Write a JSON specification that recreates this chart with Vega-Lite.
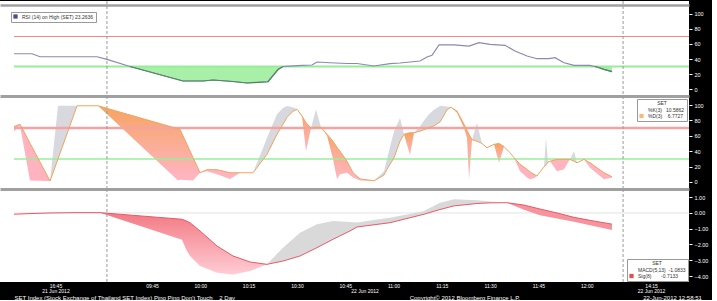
{
  "$schema": "https://vega.github.io/schema/vega-lite/v6.json",
  "background": "#000000",
  "padding": {"left": 0, "top": 0, "right": 4, "bottom": 0},
  "spacing": 0,
  "bounds": "flush",
  "config": {
    "view": {"stroke": null, "fill": "#ffffff"},
    "font": "Liberation Sans",
    "axis": {"grid": false, "labelOverlap": false, "labelLimit": 400, "labelSeparation": 0},
    "axisY": {"tickCount": 6},
    "legend": {"symbolType": "square", "symbolStrokeWidth": 0, "labelFontSize": 5, "titleFontSize": 5, "titleFontWeight": "normal", "symbolSize": 18, "padding": 2, "strokeColor": "#999999", "fillColor": "#ffffff", "rowPadding": 0.5, "labelColor": "#333333", "titleColor": "#333333", "titlePadding": 1, "labelLimit": 200}
  },
  "resolve": {"scale": {"x": "independent", "y": "independent", "color": "independent"}, "legend": {"color": "independent"}},
  "datasets": {
    "rsi": [
      {"t": -42.86, "v": 47}, {"t": -37.27, "v": 47}, {"t": -34.78, "v": 43}, {"t": -17.08, "v": 43},
      {"t": -13.98, "v": 39.5}, {"t": -6.83, "v": 30}, {"t": 9.63, "v": 10.7}, {"t": 15.84, "v": 10.7},
      {"t": 18.94, "v": 12}, {"t": 25.16, "v": 10}, {"t": 29.5, "v": 8}, {"t": 36.02, "v": 9.7},
      {"t": 39.13, "v": 26}, {"t": 40.68, "v": 30}, {"t": 42.86, "v": 30.5}, {"t": 46.58, "v": 31.6},
      {"t": 49.69, "v": 32}, {"t": 51.24, "v": 36}, {"t": 55.28, "v": 35}, {"t": 60.56, "v": 34},
      {"t": 63.66, "v": 34}, {"t": 68.94, "v": 30.7}, {"t": 73.91, "v": 33.8}, {"t": 77.02, "v": 34.7},
      {"t": 80.12, "v": 36}, {"t": 83.23, "v": 37.3}, {"t": 85.4, "v": 42.7}, {"t": 86.96, "v": 45},
      {"t": 89.13, "v": 58.7}, {"t": 93.79, "v": 58.7}, {"t": 98.45, "v": 57.3}, {"t": 101.55, "v": 61.7},
      {"t": 104.97, "v": 59.6}, {"t": 109.63, "v": 58.2}, {"t": 112.73, "v": 50.7}, {"t": 116.46, "v": 44},
      {"t": 119.57, "v": 40.4}, {"t": 123.29, "v": 40.4}, {"t": 125.16, "v": 41.8}, {"t": 127.95, "v": 35},
      {"t": 131.06, "v": 31.6}, {"t": 136.02, "v": 31.6}, {"t": 138.2, "v": 29.3}, {"t": 140.37, "v": 26.2},
      {"t": 142.86, "v": 23.26}
    ],
    "rsifill": [
      {"t": -6.83, "v": 30, "seg": 1}, {"t": 9.63, "v": 10.7, "seg": 1}, {"t": 15.84, "v": 10.7, "seg": 1},
      {"t": 18.94, "v": 12, "seg": 1}, {"t": 25.16, "v": 10, "seg": 1}, {"t": 29.5, "v": 8, "seg": 1},
      {"t": 36.02, "v": 9.7, "seg": 1}, {"t": 39.13, "v": 26, "seg": 1}, {"t": 40.68, "v": 30, "seg": 1},
      {"t": 137.54, "v": 30, "seg": 2}, {"t": 138.2, "v": 29.3, "seg": 2}, {"t": 140.37, "v": 26.2, "seg": 2},
      {"t": 142.86, "v": 23.26, "seg": 2}
    ],
    "stoch": [
      {"t": -42.86, "d": 72, "k": 66, "s": 1, "c": "p"}, {"t": -40.99, "d": 75, "k": 73, "s": 1, "c": "p"},
      {"t": -37.89, "d": 50.4, "k": 2, "s": 1, "c": "p"}, {"t": -31.68, "d": 1.3, "k": 1.3, "s": 1, "c": "p"},
      {"t": -31.68, "d": 1.3, "k": 1.3, "s": 2, "c": "g"}, {"t": -29.19, "d": 30, "k": 99, "s": 2, "c": "g"},
      {"t": -23.29, "d": 99, "k": 99, "s": 2, "c": "g"},
      {"t": -23.29, "d": 99, "k": 99, "s": 3, "c": "w"}, {"t": -16.77, "d": 99, "k": 99, "s": 3, "c": "w"},
      {"t": 8.07, "d": 69.1, "k": 2, "s": 3, "c": "w"}, {"t": 8.7, "d": 68.4, "k": 3, "s": 3, "c": "w"},
      {"t": 12.73, "d": 31.7, "k": 2, "s": 3, "c": "w"}, {"t": 14.91, "d": 12, "k": 12, "s": 3, "c": "w"},
      {"t": 14.91, "d": 12, "k": 12, "s": 4, "c": "p"}, {"t": 17.08, "d": 16, "k": 14, "s": 4, "c": "p"},
      {"t": 20.19, "d": 16, "k": 10, "s": 4, "c": "p"}, {"t": 24.22, "d": 12, "k": 4, "s": 4, "c": "p"},
      {"t": 27.33, "d": 12, "k": 12, "s": 4, "c": "p"}, {"t": 29.5, "d": 12, "k": 12, "s": 4, "c": "p"},
      {"t": 31.37, "d": 12, "k": 12, "s": 4, "c": "p"},
      {"t": 31.37, "d": 12, "k": 12, "s": 5, "c": "g"}, {"t": 34.47, "d": 29, "k": 44, "s": 5, "c": "g"},
      {"t": 35.71, "d": 36, "k": 57.6, "s": 5, "c": "g"}, {"t": 38.82, "d": 62, "k": 88, "s": 5, "c": "g"},
      {"t": 40.68, "d": 75, "k": 96, "s": 5, "c": "g"}, {"t": 41.93, "d": 84, "k": 98.7, "s": 5, "c": "g"},
      {"t": 43.79, "d": 92, "k": 97, "s": 5, "c": "g"}, {"t": 45.03, "d": 94.4, "k": 94.4, "s": 5, "c": "g"},
      {"t": 45.03, "d": 94.4, "k": 94.4, "s": 6, "c": "w"}, {"t": 46.58, "d": 85.7, "k": 85, "s": 6, "c": "w"},
      {"t": 47.83, "d": 77, "k": 40, "s": 6, "c": "w"}, {"t": 49.38, "d": 70, "k": 70, "s": 6, "c": "w"},
      {"t": 49.38, "d": 70, "k": 70, "s": 7, "c": "g"}, {"t": 50.93, "d": 71, "k": 94.4, "s": 7, "c": "g"},
      {"t": 52.48, "d": 71, "k": 71, "s": 7, "c": "g"},
      {"t": 52.48, "d": 71, "k": 71, "s": 8, "c": "w"}, {"t": 54.35, "d": 62, "k": 60, "s": 8, "c": "w"},
      {"t": 56.21, "d": 53, "k": 30, "s": 8, "c": "w"}, {"t": 57.45, "d": 45, "k": 4, "s": 8, "c": "w"},
      {"t": 58.39, "d": 40, "k": 10, "s": 8, "c": "w"}, {"t": 60.56, "d": 27, "k": 12, "s": 8, "c": "w"},
      {"t": 62.42, "d": 12, "k": 6, "s": 8, "c": "w"}, {"t": 64.6, "d": 4, "k": 2, "s": 8, "c": "w"},
      {"t": 66.46, "d": 3, "k": 1.5, "s": 8, "c": "w"}, {"t": 68.94, "d": 1.5, "k": 1.5, "s": 8, "c": "w"},
      {"t": 68.94, "d": 1.5, "k": 1.5, "s": 9, "c": "g"}, {"t": 72.05, "d": 9, "k": 14, "s": 9, "c": "g"},
      {"t": 72.98, "d": 16.5, "k": 30, "s": 9, "c": "g"}, {"t": 75.16, "d": 31.6, "k": 66, "s": 9, "c": "g"},
      {"t": 77.02, "d": 53, "k": 83, "s": 9, "c": "g"}, {"t": 78.26, "d": 62, "k": 62, "s": 9, "c": "g"},
      {"t": 78.26, "d": 62, "k": 62, "s": 10, "c": "w"}, {"t": 80.12, "d": 64, "k": 35, "s": 10, "c": "w"},
      {"t": 81.37, "d": 64, "k": 64, "s": 10, "c": "w"},
      {"t": 81.37, "d": 64, "k": 64, "s": 11, "c": "g"}, {"t": 83.23, "d": 66, "k": 72, "s": 11, "c": "g"},
      {"t": 84.47, "d": 68, "k": 80, "s": 11, "c": "g"}, {"t": 86.02, "d": 70.5, "k": 88, "s": 11, "c": "g"},
      {"t": 87.58, "d": 73, "k": 94, "s": 11, "c": "g"}, {"t": 89.44, "d": 78, "k": 98.7, "s": 11, "c": "g"},
      {"t": 90.06, "d": 82, "k": 98.7, "s": 11, "c": "g"}, {"t": 91.61, "d": 94, "k": 98, "s": 11, "c": "g"},
      {"t": 92.86, "d": 97, "k": 97, "s": 11, "c": "g"},
      {"t": 92.86, "d": 97, "k": 97, "s": 12, "c": "w"}, {"t": 94.72, "d": 92, "k": 90, "s": 12, "c": "w"},
      {"t": 96.89, "d": 75, "k": 70, "s": 12, "c": "w"}, {"t": 97.83, "d": 67, "k": 57, "s": 12, "c": "w"},
      {"t": 98.45, "d": 62, "k": 3.5, "s": 12, "c": "w"}, {"t": 99.38, "d": 55, "k": 55, "s": 12, "c": "w"},
      {"t": 99.38, "d": 55, "k": 55, "s": 13, "c": "g"}, {"t": 100.93, "d": 53, "k": 77, "s": 13, "c": "g"},
      {"t": 102.48, "d": 50, "k": 50, "s": 13, "c": "g"},
      {"t": 102.48, "d": 50, "k": 50, "s": 14, "c": "w"}, {"t": 104.04, "d": 44.6, "k": 44.6, "s": 14, "c": "w"},
      {"t": 106.21, "d": 48.9, "k": 48.9, "s": 14, "c": "w"}, {"t": 107.76, "d": 50, "k": 25, "s": 14, "c": "w"},
      {"t": 109.32, "d": 46, "k": 46, "s": 14, "c": "w"},
      {"t": 109.32, "d": 46, "k": 46, "s": 15, "c": "p"}, {"t": 111.18, "d": 38, "k": 38, "s": 15, "c": "p"},
      {"t": 112.42, "d": 31.6, "k": 31.6, "s": 15, "c": "p"}, {"t": 114.29, "d": 23, "k": 14, "s": 15, "c": "p"},
      {"t": 116.46, "d": 16.5, "k": 6, "s": 15, "c": "p"}, {"t": 117.39, "d": 13, "k": 3.5, "s": 15, "c": "p"},
      {"t": 118.63, "d": 10, "k": 5, "s": 15, "c": "p"}, {"t": 119.57, "d": 7.8, "k": 7.8, "s": 15, "c": "p"},
      {"t": 119.57, "d": 7.8, "k": 7.8, "s": 16, "c": "g"}, {"t": 121.74, "d": 20, "k": 20, "s": 16, "c": "g"},
      {"t": 122.36, "d": 22, "k": 57.6, "s": 16, "c": "g"}, {"t": 122.98, "d": 26, "k": 26, "s": 16, "c": "g"},
      {"t": 123.6, "d": 27, "k": 27, "s": 16, "c": "g"},
      {"t": 123.6, "d": 27, "k": 27, "s": 17, "c": "p"}, {"t": 125.78, "d": 29.4, "k": 14, "s": 17, "c": "p"},
      {"t": 127.95, "d": 29.4, "k": 16.5, "s": 17, "c": "p"}, {"t": 129.81, "d": 29.4, "k": 29.4, "s": 17, "c": "p"},
      {"t": 129.81, "d": 29.4, "k": 29.4, "s": 18, "c": "g"}, {"t": 131.06, "d": 27, "k": 40, "s": 18, "c": "g"},
      {"t": 131.99, "d": 25, "k": 25, "s": 18, "c": "g"},
      {"t": 131.99, "d": 25, "k": 25, "s": 19, "c": "p"}, {"t": 134.16, "d": 29.4, "k": 29.4, "s": 19, "c": "p"},
      {"t": 136.02, "d": 25, "k": 18.6, "s": 19, "c": "p"}, {"t": 140.37, "d": 12, "k": 3.5, "s": 19, "c": "p"},
      {"t": 142.86, "d": 6.8, "k": 6, "s": 19, "c": "p"}
    ],
    "macd": [
      {"t": -42.86, "m": -0.08, "s": -0.08, "seg": 0, "c": "n"}, {"t": -37.89, "m": -0.04, "s": -0.04, "seg": 0, "c": "n"},
      {"t": -31.68, "m": 0, "s": 0, "seg": 0, "c": "n"}, {"t": -23.91, "m": 0.02, "s": 0.02, "seg": 0, "c": "n"},
      {"t": -16.15, "m": 0.02, "s": 0.02, "seg": 0, "c": "n"},
      {"t": -16.15, "m": 0.02, "s": 0.02, "seg": 1, "c": "w"}, {"t": 9.32, "m": -1.7, "s": -0.4, "seg": 1, "c": "w"},
      {"t": 10.56, "m": -2.3, "s": -0.5, "seg": 1, "c": "w"}, {"t": 11.8, "m": -2.73, "s": -0.62, "seg": 1, "c": "w"},
      {"t": 14.91, "m": -3.37, "s": -1.14, "seg": 1, "c": "w"}, {"t": 20.19, "m": -3.79, "s": -2.1, "seg": 1, "c": "w"},
      {"t": 25.16, "m": -3.9, "s": -2.73, "seg": 1, "c": "w"}, {"t": 30.43, "m": -3.68, "s": -3.11, "seg": 1, "c": "w"},
      {"t": 35.71, "m": -3.26, "s": -3.26, "seg": 1, "c": "w"},
      {"t": 35.71, "m": -3.26, "s": -3.26, "seg": 2, "c": "g"}, {"t": 40.68, "m": -2.2, "s": -3.05, "seg": 2, "c": "g"},
      {"t": 45.96, "m": -1.25, "s": -2.73, "seg": 2, "c": "g"}, {"t": 51.24, "m": -0.72, "s": -2.2, "seg": 2, "c": "g"},
      {"t": 56.21, "m": -0.51, "s": -1.67, "seg": 2, "c": "g"}, {"t": 61.49, "m": -0.57, "s": -1.14, "seg": 2, "c": "g"},
      {"t": 63.66, "m": -0.6, "s": -0.89, "seg": 2, "c": "g"}, {"t": 68.94, "m": -0.45, "s": -0.75, "seg": 2, "c": "g"},
      {"t": 73.91, "m": -0.3, "s": -0.62, "seg": 2, "c": "g"}, {"t": 79.19, "m": -0.1, "s": -0.35, "seg": 2, "c": "g"},
      {"t": 84.47, "m": 0.13, "s": -0.08, "seg": 2, "c": "g"}, {"t": 89.44, "m": 0.65, "s": 0.22, "seg": 2, "c": "g"},
      {"t": 93.79, "m": 0.87, "s": 0.45, "seg": 2, "c": "g"}, {"t": 100.93, "m": 0.81, "s": 0.6, "seg": 2, "c": "g"},
      {"t": 104.97, "m": 0.72, "s": 0.64, "seg": 2, "c": "g"}, {"t": 110.25, "m": 0.65, "s": 0.65, "seg": 2, "c": "g"},
      {"t": 110.25, "m": 0.65, "s": 0.65, "seg": 3, "c": "p"}, {"t": 115.53, "m": 0.2, "s": 0.5, "seg": 3, "c": "p"},
      {"t": 120.5, "m": -0.15, "s": 0.25, "seg": 3, "c": "p"}, {"t": 125.78, "m": -0.35, "s": 0, "seg": 3, "c": "p"},
      {"t": 131.06, "m": -0.55, "s": -0.28, "seg": 3, "c": "p"}, {"t": 136.02, "m": -0.78, "s": -0.47, "seg": 3, "c": "p"},
      {"t": 142.86, "m": -1.08, "s": -0.71, "seg": 3, "c": "p"}
    ],
    "breaks": [{"t": -14}, {"t": 146.3}],
    "lv1": [{"level": 70, "t0": -42.86, "t1": 166.77}],
    "lv2": [{"level": 30, "t0": -42.86, "t1": 166.77}],
    "lv0": [{"level": 0, "t0": -42.86, "t1": 166.77}],
    "leg1": [{"name": "RSI (14) on High (SET) 23.2636"}],
    "leg2": [{"name": "%K(3)\u00a0\u00a0\u00a010.5862"}, {"name": "%D(3)\u00a0\u00a0\u00a0\u00a06.7727"}],
    "leg3": [{"name": "MACD(5,13)\u00a0\u00a0-1.0833"}, {"name": "Sig(8)\u00a0\u00a0\u00a0\u00a0\u00a0\u00a0\u00a0-0.7133"}]
  },
  "vconcat": [
    {
      "width": 689, "height": 95,
      "view": {"fill": "#ffffff", "stroke": null},
      "layer": [
        {
          "data": {"name": "rsifill"},
          "mark": {"type": "area", "color": "#a8f0a8"},
          "encoding": {
            "x": {"field": "t", "type": "quantitative", "scale": {"domain": [-47.21, 166.77], "nice": false, "zero": false},
                  "axis": {"orient": "top", "offset": -4, "labels": false, "ticks": false, "grid": false, "domainColor": "#a0a0a0", "domainWidth": 2.5, "title": null}},
            "y": {"field": "v", "type": "quantitative", "title": null, "scale": {"domain": [-9.3, 117.3], "nice": false, "zero": false},
                  "axis": {"orient": "right", "values": [0, 20, 40, 60, 80, 100], "domain": false, "tickSize": 3, "tickColor": "#ffffff", "tickWidth": 1, "labelColor": "#ffffff", "labelFontSize": 5.5, "labelPadding": 2, "labelOverlap": false, "labelSeparation": 0, "grid": false, "title": null}},
            "y2": {"datum": 30},
            "detail": {"field": "seg", "type": "nominal"}
          }
        },
        {
          "data": {"name": "lv1"},
          "mark": {"type": "rule", "color": "#f08888", "strokeWidth": 1},
          "encoding": {
            "x": {"field": "t0", "type": "quantitative", "scale": {"domain": [-47.21, 166.77], "nice": false, "zero": false}},
            "x2": {"field": "t1"},
            "y": {"field": "level", "type": "quantitative", "title": null, "scale": {"domain": [-9.3, 117.3], "nice": false, "zero": false},
                  "axis": {"orient": "right", "values": [0, 20, 40, 60, 80, 100], "domain": false, "tickSize": 3, "tickColor": "#ffffff", "tickWidth": 1, "labelColor": "#ffffff", "labelFontSize": 5.5, "labelPadding": 2, "labelOverlap": false, "labelSeparation": 0, "grid": false, "title": null}}
          }
        },
        {
          "data": {"name": "lv2"},
          "mark": {"type": "rule", "color": "#98ee98", "strokeWidth": 2},
          "encoding": {
            "x": {"field": "t0", "type": "quantitative", "scale": {"domain": [-47.21, 166.77], "nice": false, "zero": false}},
            "x2": {"field": "t1"},
            "y": {"field": "level", "type": "quantitative", "title": null, "scale": {"domain": [-9.3, 117.3], "nice": false, "zero": false},
                  "axis": {"orient": "right", "values": [0, 20, 40, 60, 80, 100], "domain": false, "tickSize": 3, "tickColor": "#ffffff", "tickWidth": 1, "labelColor": "#ffffff", "labelFontSize": 5.5, "labelPadding": 2, "labelOverlap": false, "labelSeparation": 0, "grid": false, "title": null}}
          }
        },
        {
          "data": {"name": "breaks"},
          "mark": {"type": "rule", "color": "#9a9a9a", "strokeWidth": 1, "strokeDash": [3, 2]},
          "encoding": {"x": {"field": "t", "type": "quantitative", "scale": {"domain": [-47.21, 166.77], "nice": false, "zero": false}}}
        },
        {
          "data": {"name": "rsi"},
          "mark": {"type": "line", "color": "#8a8ab0", "strokeWidth": 1.2},
          "encoding": {
            "x": {"field": "t", "type": "quantitative", "scale": {"domain": [-47.21, 166.77], "nice": false, "zero": false}},
            "y": {"field": "v", "type": "quantitative", "title": null, "scale": {"domain": [-9.3, 117.3], "nice": false, "zero": false},
                  "axis": {"orient": "right", "values": [0, 20, 40, 60, 80, 100], "domain": false, "tickSize": 3, "tickColor": "#ffffff", "tickWidth": 1, "labelColor": "#ffffff", "labelFontSize": 5.5, "labelPadding": 2, "labelOverlap": false, "labelSeparation": 0, "grid": false, "title": null}}
          }
        },
        {
          "data": {"name": "rsifill"},
          "mark": {"type": "line", "color": "#4f8a5f", "strokeWidth": 1.2},
          "encoding": {
            "x": {"field": "t", "type": "quantitative", "scale": {"domain": [-47.21, 166.77], "nice": false, "zero": false}},
            "y": {"field": "v", "type": "quantitative", "title": null, "scale": {"domain": [-9.3, 117.3], "nice": false, "zero": false},
                  "axis": {"orient": "right", "values": [0, 20, 40, 60, 80, 100], "domain": false, "tickSize": 3, "tickColor": "#ffffff", "tickWidth": 1, "labelColor": "#ffffff", "labelFontSize": 5.5, "labelPadding": 2, "labelOverlap": false, "labelSeparation": 0, "grid": false, "title": null}},
            "detail": {"field": "seg", "type": "nominal"}
          }
        },
        {
          "data": {"name": "leg1"},
          "transform": [{"filter": "false"}],
          "mark": {"type": "point", "filled": true},
          "encoding": {
            "color": {"field": "name", "type": "nominal", "scale": {"domain": ["RSI (14) on High (SET) 23.2636"], "range": ["#000066"]},
                      "legend": {"orient": "top-left", "title": null, "offset": 11}}
          }
        }
      ]
    },
    {
      "width": 689, "height": 93,
      "view": {"fill": "#ffffff", "stroke": null},
      "layer": [
        {
          "data": {"name": "stoch"},
          "transform": [{"filter": "datum.c == 'g'"}],
          "mark": {"type": "area", "color": "#d8d9de"},
          "encoding": {
            "x": {"field": "t", "type": "quantitative", "scale": {"domain": [-47.21, 166.77], "nice": false, "zero": false},
                  "axis": {"orient": "top", "labels": false, "ticks": false, "grid": false, "domainColor": "#a0a0a0", "domainWidth": 3, "title": null}},
            "y": {"field": "k", "type": "quantitative", "title": null, "scale": {"domain": [-9.1, 111.7], "nice": false, "zero": false},
                  "axis": {"orient": "right", "values": [0, 20, 40, 60, 80, 100], "domain": false, "tickSize": 3, "tickColor": "#ffffff", "tickWidth": 1, "labelColor": "#ffffff", "labelFontSize": 5.5, "labelPadding": 2, "labelOverlap": false, "labelSeparation": 0, "grid": false, "title": null}},
            "y2": {"field": "d"},
            "detail": {"field": "s", "type": "nominal"}
          }
        },
        {
          "data": {"name": "stoch"},
          "transform": [{"filter": "datum.c == 'w'"}],
          "mark": {"type": "area", "color": {"x1": 0, "y1": 0, "x2": 0, "y2": 1, "gradient": "linear", "stops": [{"offset": 0, "color": "#f6a462"}, {"offset": 1, "color": "#ffb6c4"}]}},
          "encoding": {
            "x": {"field": "t", "type": "quantitative", "scale": {"domain": [-47.21, 166.77], "nice": false, "zero": false}},
            "y": {"field": "k", "type": "quantitative", "title": null, "scale": {"domain": [-9.1, 111.7], "nice": false, "zero": false},
                  "axis": {"orient": "right", "values": [0, 20, 40, 60, 80, 100], "domain": false, "tickSize": 3, "tickColor": "#ffffff", "tickWidth": 1, "labelColor": "#ffffff", "labelFontSize": 5.5, "labelPadding": 2, "labelOverlap": false, "labelSeparation": 0, "grid": false, "title": null}},
            "y2": {"field": "d"},
            "detail": {"field": "s", "type": "nominal"}
          }
        },
        {
          "data": {"name": "stoch"},
          "transform": [{"filter": "datum.c == 'p'"}],
          "mark": {"type": "area", "color": "#ffb3be"},
          "encoding": {
            "x": {"field": "t", "type": "quantitative", "scale": {"domain": [-47.21, 166.77], "nice": false, "zero": false}},
            "y": {"field": "k", "type": "quantitative", "title": null, "scale": {"domain": [-9.1, 111.7], "nice": false, "zero": false},
                  "axis": {"orient": "right", "values": [0, 20, 40, 60, 80, 100], "domain": false, "tickSize": 3, "tickColor": "#ffffff", "tickWidth": 1, "labelColor": "#ffffff", "labelFontSize": 5.5, "labelPadding": 2, "labelOverlap": false, "labelSeparation": 0, "grid": false, "title": null}},
            "y2": {"field": "d"},
            "detail": {"field": "s", "type": "nominal"}
          }
        },
        {
          "data": {"name": "lv1"},
          "mark": {"type": "rule", "color": "#f4a2a2", "strokeWidth": 2.5},
          "encoding": {
            "x": {"field": "t0", "type": "quantitative", "scale": {"domain": [-47.21, 166.77], "nice": false, "zero": false}},
            "x2": {"field": "t1"},
            "y": {"field": "level", "type": "quantitative", "title": null, "scale": {"domain": [-9.1, 111.7], "nice": false, "zero": false},
                  "axis": {"orient": "right", "values": [0, 20, 40, 60, 80, 100], "domain": false, "tickSize": 3, "tickColor": "#ffffff", "tickWidth": 1, "labelColor": "#ffffff", "labelFontSize": 5.5, "labelPadding": 2, "labelOverlap": false, "labelSeparation": 0, "grid": false, "title": null}}
          }
        },
        {
          "data": {"name": "lv2"},
          "mark": {"type": "rule", "color": "#98ee98", "strokeWidth": 1.5},
          "encoding": {
            "x": {"field": "t0", "type": "quantitative", "scale": {"domain": [-47.21, 166.77], "nice": false, "zero": false}},
            "x2": {"field": "t1"},
            "y": {"field": "level", "type": "quantitative", "title": null, "scale": {"domain": [-9.1, 111.7], "nice": false, "zero": false},
                  "axis": {"orient": "right", "values": [0, 20, 40, 60, 80, 100], "domain": false, "tickSize": 3, "tickColor": "#ffffff", "tickWidth": 1, "labelColor": "#ffffff", "labelFontSize": 5.5, "labelPadding": 2, "labelOverlap": false, "labelSeparation": 0, "grid": false, "title": null}}
          }
        },
        {
          "data": {"name": "breaks"},
          "mark": {"type": "rule", "color": "#9a9a9a", "strokeWidth": 1, "strokeDash": [3, 2]},
          "encoding": {"x": {"field": "t", "type": "quantitative", "scale": {"domain": [-47.21, 166.77], "nice": false, "zero": false}}}
        },
        {
          "data": {"name": "stoch"},
          "mark": {"type": "line", "color": "#f0a45e", "strokeWidth": 1},
          "encoding": {
            "x": {"field": "t", "type": "quantitative", "scale": {"domain": [-47.21, 166.77], "nice": false, "zero": false}},
            "y": {"field": "d", "type": "quantitative", "title": null, "scale": {"domain": [-9.1, 111.7], "nice": false, "zero": false},
                  "axis": {"orient": "right", "values": [0, 20, 40, 60, 80, 100], "domain": false, "tickSize": 3, "tickColor": "#ffffff", "tickWidth": 1, "labelColor": "#ffffff", "labelFontSize": 5.5, "labelPadding": 2, "labelOverlap": false, "labelSeparation": 0, "grid": false, "title": null}}
          }
        },
        {
          "data": {"name": "leg2"},
          "transform": [{"filter": "false"}],
          "mark": {"type": "point", "filled": true},
          "encoding": {
            "color": {"field": "name", "type": "nominal", "scale": {"domain": ["%K(3)\u00a0\u00a0\u00a010.5862", "%D(3)\u00a0\u00a0\u00a0\u00a06.7727"], "range": ["#ffffff", "#f39b4a"]},
                      "legend": {"orient": "top-right", "title": "SET", "titleAnchor": "middle", "offset": 2.5}}
          }
        }
      ]
    },
    {
      "width": 689, "height": 93,
      "view": {"fill": "#ffffff", "stroke": null},
      "resolve": {"axis": {"x": "independent"}},
      "layer": [
        {
          "data": {"name": "lv0"},
          "mark": {"type": "rule", "color": "#e2e2e2", "strokeWidth": 1},
          "encoding": {
            "x": {"field": "t0", "type": "quantitative", "scale": {"domain": [-47.21, 166.77], "nice": false, "zero": false},
                  "axis": {"orient": "bottom", "values": [-30, 0, 15, 30, 45, 60, 66, 75, 90, 105, 120, 135, 155],
                           "labelExpr": "datum.value == -30 ? ['16:45', '21 Jun 2012'] : datum.value == 0 ? '09:45' : datum.value == 15 ? '10:00' : datum.value == 30 ? '10:15' : datum.value == 45 ? '10:30' : datum.value == 60 ? '10:45' : datum.value == 66 ? ['', '22 Jun 2012'] : datum.value == 75 ? '11:00' : datum.value == 90 ? '11:15' : datum.value == 105 ? '11:30' : datum.value == 120 ? '11:45' : datum.value == 135 ? '12:00' : ['14:15', '22 Jun 2012']",
                           "domain": false, "ticks": false, "labelColor": "#ffffff", "labelFontSize": 5,
                           "labelPadding": 1, "labelLineHeight": 5.5, "labelBaseline": "top", "labelOverlap": false, "labelBound": false, "labelFlush": false, "grid": false, "title": null}},
            "x2": {"field": "t1"},
            "y": {"field": "level", "type": "quantitative", "title": null, "scale": {"domain": [-4.38, 1.52], "nice": false, "zero": false},
                  "axis": {"orient": "right", "values": [-4, -3, -2, -1, 0, 1], "format": ".2f", "domain": false, "tickSize": 3, "tickColor": "#ffffff", "tickWidth": 1, "labelColor": "#ffffff", "labelFontSize": 5.5, "labelPadding": 2, "labelOverlap": false, "labelSeparation": 0, "grid": false, "title": null}}
          }
        },
        {
          "data": {"name": "macd"},
          "transform": [{"filter": "datum.c == 'g'"}],
          "mark": {"type": "area", "color": "#d9d9d9"},
          "encoding": {
            "x": {"field": "t", "type": "quantitative", "scale": {"domain": [-47.21, 166.77], "nice": false, "zero": false},
                  "axis": {"orient": "top", "labels": false, "ticks": false, "grid": false, "domainColor": "#a0a0a0", "domainWidth": 3, "title": null}},
            "y": {"field": "m", "type": "quantitative", "title": null, "scale": {"domain": [-4.38, 1.52], "nice": false, "zero": false},
                  "axis": {"orient": "right", "values": [-4, -3, -2, -1, 0, 1], "format": ".2f", "domain": false, "tickSize": 3, "tickColor": "#ffffff", "tickWidth": 1, "labelColor": "#ffffff", "labelFontSize": 5.5, "labelPadding": 2, "labelOverlap": false, "labelSeparation": 0, "grid": false, "title": null}},
            "y2": {"field": "s"},
            "detail": {"field": "seg", "type": "nominal"}
          }
        },
        {
          "data": {"name": "macd"},
          "transform": [{"filter": "datum.c == 'w'"}],
          "mark": {"type": "area", "color": {"x1": 0, "y1": 0, "x2": 0, "y2": 1, "gradient": "linear", "stops": [{"offset": 0, "color": "#f27a84"}, {"offset": 1, "color": "#ffccd4"}]}},
          "encoding": {
            "x": {"field": "t", "type": "quantitative", "scale": {"domain": [-47.21, 166.77], "nice": false, "zero": false}, "axis": null},
            "y": {"field": "m", "type": "quantitative", "title": null, "scale": {"domain": [-4.38, 1.52], "nice": false, "zero": false},
                  "axis": {"orient": "right", "values": [-4, -3, -2, -1, 0, 1], "format": ".2f", "domain": false, "tickSize": 3, "tickColor": "#ffffff", "tickWidth": 1, "labelColor": "#ffffff", "labelFontSize": 5.5, "labelPadding": 2, "labelOverlap": false, "labelSeparation": 0, "grid": false, "title": null}},
            "y2": {"field": "s"},
            "detail": {"field": "seg", "type": "nominal"}
          }
        },
        {
          "data": {"name": "macd"},
          "transform": [{"filter": "datum.c == 'p'"}],
          "mark": {"type": "area", "color": "#f6939c"},
          "encoding": {
            "x": {"field": "t", "type": "quantitative", "scale": {"domain": [-47.21, 166.77], "nice": false, "zero": false}, "axis": null},
            "y": {"field": "m", "type": "quantitative", "title": null, "scale": {"domain": [-4.38, 1.52], "nice": false, "zero": false},
                  "axis": {"orient": "right", "values": [-4, -3, -2, -1, 0, 1], "format": ".2f", "domain": false, "tickSize": 3, "tickColor": "#ffffff", "tickWidth": 1, "labelColor": "#ffffff", "labelFontSize": 5.5, "labelPadding": 2, "labelOverlap": false, "labelSeparation": 0, "grid": false, "title": null}},
            "y2": {"field": "s"},
            "detail": {"field": "seg", "type": "nominal"}
          }
        },
        {
          "data": {"name": "breaks"},
          "mark": {"type": "rule", "color": "#9a9a9a", "strokeWidth": 1, "strokeDash": [3, 2]},
          "encoding": {"x": {"field": "t", "type": "quantitative", "scale": {"domain": [-47.21, 166.77], "nice": false, "zero": false}, "axis": null}}
        },
        {
          "data": {"name": "macd"},
          "mark": {"type": "line", "color": "#e65a6a", "strokeWidth": 1},
          "encoding": {
            "x": {"field": "t", "type": "quantitative", "scale": {"domain": [-47.21, 166.77], "nice": false, "zero": false},
                  "axis": {"orient": "bottom", "offset": 12, "values": [-42.86, 97, 161.5],
                           "labelExpr": "datum.value < -40 ? \"SET Index (Stock Exchange of Thailand SET Index) Ping Ping Don't Touch\u00a0\u00a0\u00a0\u00a02 Day\" : datum.value == 97 ? 'Copyright\u00a9 2012 Bloomberg Finance L.P.' : '22-Jun-2012 12:58:51'",
                           "domain": false, "ticks": false, "labelColor": "#ffffff",
                           "labelAlign": {"condition": {"test": "datum.value < -40", "value": "left"}, "value": "center"},
                           "labelFontSize": 6, "labelPadding": 0, "labelBaseline": "top", "labelOverlap": false, "labelBound": false, "labelFlush": false, "grid": false, "title": null}},
            "y": {"field": "s", "type": "quantitative", "title": null, "scale": {"domain": [-4.38, 1.52], "nice": false, "zero": false},
                  "axis": {"orient": "right", "values": [-4, -3, -2, -1, 0, 1], "format": ".2f", "domain": false, "tickSize": 3, "tickColor": "#ffffff", "tickWidth": 1, "labelColor": "#ffffff", "labelFontSize": 5.5, "labelPadding": 2, "labelOverlap": false, "labelSeparation": 0, "grid": false, "title": null}}
          }
        },
        {
          "data": {"name": "leg3"},
          "transform": [{"filter": "false"}],
          "mark": {"type": "point", "filled": true},
          "encoding": {
            "color": {"field": "name", "type": "nominal", "scale": {"domain": ["MACD(5,13)\u00a0\u00a0-1.0833", "Sig(8)\u00a0\u00a0\u00a0\u00a0\u00a0\u00a0\u00a0-0.7133"], "range": ["#ffffff", "#e00000"]},
                      "legend": {"orient": "bottom-right", "title": "SET", "titleAnchor": "middle", "offset": 1.5}}
          }
        }
      ]
    }
  ]
}
